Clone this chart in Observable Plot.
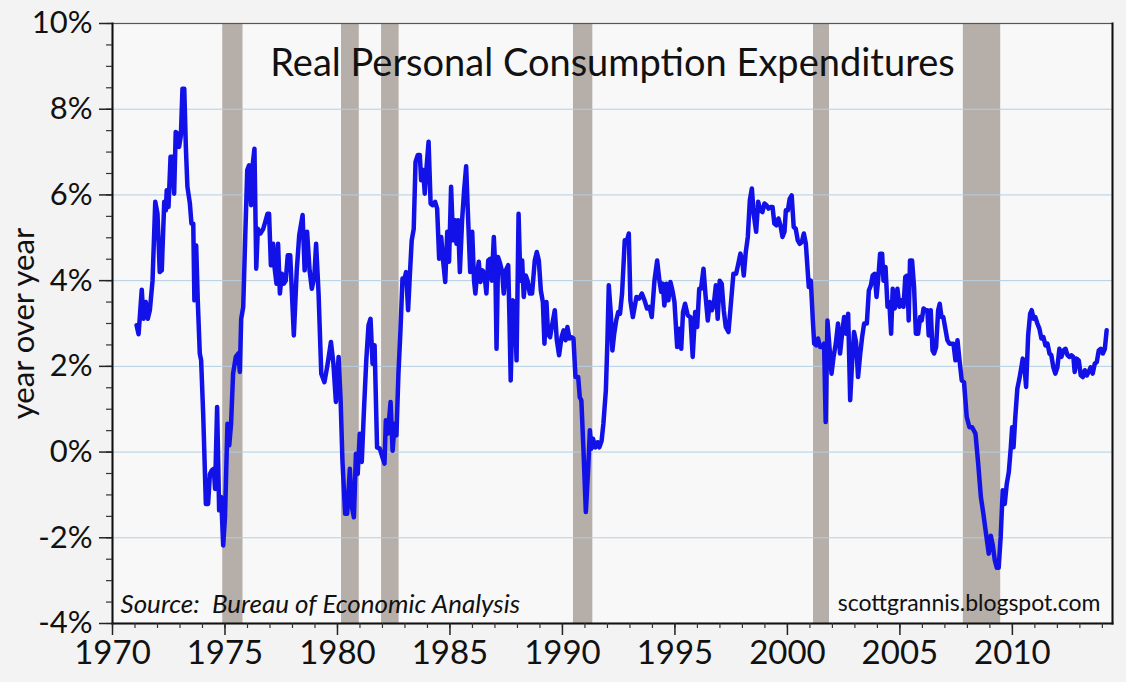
<!DOCTYPE html>
<html>
<head>
<meta charset="utf-8">
<script src="https://cdn.jsdelivr.net/npm/d3@7"></script>
<script src="https://cdn.jsdelivr.net/npm/@observablehq/plot@0.6"></script>
<style>
  html, body { margin: 0; padding: 0; background: #f3f3f3; }
  #chart svg { display: block; }
</style>
</head>
<body>
<div id="chart"></div>
<script>
const title = "Real Personal Consumption Expenditures";
const yLabel = "year over year";
const sourceNote = "Source:  Bureau of Economic Analysis";
const credit = "scottgrannis.blogspot.com";

// decimal year of each observation
const years = [
  1971.07,1971.16,1971.30,1971.38,1971.48,1971.57,1971.66,1971.78,1971.90,1972.00,
  1972.10,1972.19,1972.30,1972.37,1972.41,1972.49,1972.58,1972.67,1972.74,1972.81,
  1972.90,1972.96,1973.04,1973.11,1973.19,1973.26,1973.33,1973.44,1973.51,1973.59,
  1973.64,1973.72,1973.79,1973.88,1973.94,1974.03,1974.15,1974.25,1974.33,1974.41,
  1974.50,1974.56,1974.65,1974.74,1974.83,1974.92,1975.00,1975.11,1975.19,1975.27,
  1975.36,1975.48,1975.59,1975.66,1975.72,1975.81,1975.90,1975.99,1976.07,1976.16,
  1976.22,1976.31,1976.39,1976.46,1976.58,1976.70,1976.79,1976.89,1976.96,1977.04,
  1977.14,1977.21,1977.29,1977.36,1977.44,1977.53,1977.61,1977.70,1977.79,1977.90,
  1978.06,1978.19,1978.30,1978.45,1978.54,1978.65,1978.76,1978.86,1978.97,1979.05,
  1979.16,1979.28,1979.42,1979.54,1979.71,1979.82,1979.93,1980.05,1980.14,1980.22,
  1980.34,1980.43,1980.55,1980.64,1980.73,1980.82,1980.90,1980.99,1981.08,1981.17,
  1981.28,1981.38,1981.47,1981.56,1981.65,1981.76,1981.88,1982.00,1982.09,1982.15,
  1982.24,1982.36,1982.45,1982.54,1982.62,1982.71,1982.80,1982.89,1982.98,1983.05,
  1983.14,1983.22,1983.30,1983.39,1983.47,1983.57,1983.66,1983.72,1983.81,1983.88,
  1983.96,1984.05,1984.14,1984.22,1984.34,1984.43,1984.52,1984.61,1984.70,1984.79,
  1984.88,1984.96,1985.05,1985.14,1985.23,1985.29,1985.36,1985.44,1985.54,1985.63,
  1985.72,1985.81,1985.90,1985.99,1986.07,1986.13,1986.21,1986.28,1986.36,1986.45,
  1986.53,1986.62,1986.70,1986.79,1986.86,1986.95,1987.02,1987.07,1987.14,1987.23,
  1987.32,1987.39,1987.48,1987.59,1987.64,1987.70,1987.79,1987.88,1987.96,1988.05,
  1988.13,1988.21,1988.28,1988.37,1988.45,1988.55,1988.65,1988.77,1988.86,1988.95,
  1989.04,1989.13,1989.20,1989.29,1989.36,1989.45,1989.54,1989.66,1989.75,1989.85,
  1989.96,1990.05,1990.14,1990.22,1990.31,1990.40,1990.49,1990.58,1990.70,1990.77,
  1990.84,1990.93,1991.04,1991.14,1991.22,1991.29,1991.36,1991.47,1991.56,1991.64,
  1991.74,1991.82,1991.93,1992.00,1992.06,1992.15,1992.22,1992.30,1992.39,1992.48,
  1992.56,1992.65,1992.77,1992.87,1992.95,1993.02,1993.13,1993.29,1993.41,1993.53,
  1993.65,1993.76,1993.87,1993.97,1994.09,1994.21,1994.31,1994.39,1994.46,1994.53,
  1994.62,1994.71,1994.80,1994.89,1994.98,1995.10,1995.19,1995.28,1995.36,1995.45,
  1995.57,1995.69,1995.79,1995.90,1995.99,1996.08,1996.16,1996.27,1996.36,1996.46,
  1996.55,1996.64,1996.73,1996.82,1996.90,1996.99,1997.08,1997.17,1997.26,1997.38,
  1997.50,1997.60,1997.72,1997.82,1997.91,1998.00,1998.06,1998.15,1998.24,1998.33,
  1998.42,1998.50,1998.61,1998.70,1998.80,1998.89,1998.98,1999.07,1999.16,1999.25,
  1999.34,1999.42,1999.51,1999.60,1999.69,1999.78,1999.87,1999.93,2000.02,2000.10,
  2000.19,2000.28,2000.37,2000.46,2000.55,2000.64,2000.73,2000.82,2000.95,2001.04,
  2001.13,2001.19,2001.28,2001.36,2001.45,2001.54,2001.63,2001.70,2001.78,2001.87,
  2001.96,2002.05,2002.15,2002.25,2002.34,2002.43,2002.52,2002.61,2002.70,2002.79,
  2002.88,2002.96,2003.05,2003.14,2003.23,2003.32,2003.41,2003.53,2003.62,2003.71,
  2003.79,2003.88,2003.96,2004.03,2004.12,2004.21,2004.27,2004.36,2004.45,2004.53,
  2004.61,2004.68,2004.77,2004.89,2004.98,2005.07,2005.16,2005.24,2005.33,2005.39,
  2005.45,2005.54,2005.63,2005.71,2005.81,2005.90,2005.97,2006.05,2006.13,2006.22,
  2006.28,2006.37,2006.45,2006.52,2006.61,2006.70,2006.77,2006.85,2006.93,2007.02,
  2007.11,2007.20,2007.29,2007.38,2007.47,2007.56,2007.65,2007.75,2007.85,2007.97,
  2008.09,2008.21,2008.36,2008.48,2008.60,2008.71,2008.83,2008.95,2009.04,2009.13,
  2009.22,2009.31,2009.39,2009.48,2009.57,2009.66,2009.75,2009.84,2009.93,2009.99,
  2010.05,2010.13,2010.22,2010.31,2010.40,2010.46,2010.55,2010.61,2010.70,2010.79,
  2010.86,2010.94,2011.02,2011.11,2011.20,2011.29,2011.38,2011.47,2011.56,2011.65,
  2011.73,2011.82,2011.91,2012.00,2012.09,2012.18,2012.27,2012.36,2012.45,2012.53,
  2012.62,2012.71,2012.77,2012.86,2012.95,2013.04,2013.13,2013.22,2013.31,2013.39,
  2013.48,2013.57,2013.66,2013.75,2013.84,2013.93,2014.02,2014.11,2014.19
];

// real PCE, % change year over year
const pceYoY = [
  2.96,2.75,3.79,3.11,3.50,3.11,3.31,4.00,5.84,5.56,
  4.20,4.24,5.84,5.64,6.11,5.72,6.89,6.89,6.03,7.47,
  7.43,7.12,7.39,8.48,8.48,7.12,6.19,5.80,5.33,5.33,
  3.54,4.82,3.54,2.30,2.14,0.90,-1.21,-1.21,-0.51,-0.43,
  -0.39,-0.86,1.05,-1.36,-1.05,-2.18,-1.52,0.66,0.16,0.66,
  1.83,2.22,2.30,1.87,3.11,3.38,5.02,6.58,6.69,5.76,
  6.65,7.08,4.28,5.21,5.10,5.21,5.37,5.56,5.56,4.36,
  4.86,4.28,3.93,4.86,3.70,4.16,3.93,4.00,4.59,4.59,
  2.72,4.24,5.06,5.53,4.24,5.14,4.24,3.81,4.09,4.86,
  3.70,1.83,1.63,1.98,2.57,2.06,1.17,2.22,1.21,-0.19,
  -1.44,-1.44,-0.39,-1.28,-1.52,-0.04,-0.51,0.43,-0.23,0.89,
  2.14,2.96,3.11,2.06,2.49,0.11,0.08,-0.12,-0.27,0.74,
  0.43,1.17,0.03,0.66,0.39,1.83,2.84,4.05,4.05,4.20,
  3.31,4.16,4.94,5.21,6.77,6.93,6.93,6.34,6.58,6.03,
  6.65,7.24,5.80,5.76,5.84,5.68,4.51,5.02,4.44,3.97,
  5.14,4.44,6.19,4.94,5.41,4.86,5.41,4.20,5.41,6.11,
  6.67,5.41,4.20,5.14,4.00,3.70,4.16,4.44,3.97,4.24,
  4.16,3.70,4.47,4.51,4.00,5.02,4.24,2.41,4.55,4.40,
  4.20,3.70,4.24,4.36,3.23,1.67,3.54,3.50,2.14,5.56,
  4.00,4.47,3.62,4.12,4.00,3.70,3.70,4.47,4.67,4.47,
  3.77,3.50,2.53,3.50,2.76,2.68,2.96,3.31,2.61,2.26,
  2.68,2.84,2.61,2.92,2.65,2.68,2.65,1.75,1.75,1.28,
  1.21,0.11,-1.40,-0.43,0.51,0.08,0.31,0.11,0.23,0.11,
  0.26,0.66,1.44,2.61,3.89,3.23,2.37,2.76,3.07,3.27,
  3.23,3.70,4.94,4.94,5.10,3.54,3.15,3.62,3.58,3.70,
  3.54,3.35,3.39,3.15,4.00,4.47,4.00,3.74,3.93,3.42,
  3.93,3.54,3.97,3.77,3.50,2.45,2.88,2.41,3.27,3.46,
  3.19,3.15,2.22,3.27,2.92,3.81,3.81,4.28,3.66,3.07,
  3.50,3.31,3.46,3.89,3.11,4.00,3.93,3.31,2.92,2.80,
  3.54,4.16,4.16,4.40,4.63,4.44,4.12,4.67,5.02,5.88,
  6.15,5.56,5.14,5.84,5.64,5.60,5.80,5.76,5.68,5.72,
  5.72,5.33,5.29,5.45,5.29,5.02,5.14,5.64,5.64,5.91,
  5.99,5.25,5.21,4.94,4.86,4.90,5.10,4.86,3.85,4.00,
  3.07,2.53,2.49,2.65,2.45,2.45,2.53,0.70,3.07,2.45,
  1.83,2.22,2.53,3.00,2.30,2.76,3.15,2.76,3.23,1.21,
  2.14,2.80,2.57,1.75,2.26,2.68,3.00,3.00,3.77,3.89,
  4.12,4.16,3.62,4.00,4.63,4.63,4.00,4.32,3.39,3.50,
  2.76,3.81,3.35,3.81,3.39,3.54,3.39,4.09,4.12,3.07,
  4.47,4.47,3.85,2.76,2.76,3.15,3.07,3.35,3.31,3.31,
  2.72,3.31,2.37,2.30,2.45,3.31,3.46,3.15,3.15,2.88,
  2.61,2.53,2.53,2.53,2.14,2.61,2.14,1.67,1.63,0.82,
  0.58,0.58,0.43,-0.27,-1.05,-1.44,-1.91,-2.37,-1.95,-2.18,
  -2.53,-2.70,-2.70,-1.98,-0.89,-1.21,-0.74,-0.47,0.11,0.58,
  0.11,0.82,1.48,1.71,1.98,2.18,1.91,1.52,2.72,3.23,
  3.31,3.11,3.15,3.00,2.88,2.65,2.68,2.49,2.53,2.30,
  2.26,1.98,1.83,1.98,2.41,2.22,2.37,2.41,2.26,2.22,
  2.26,2.22,1.87,2.18,2.14,1.79,1.75,1.91,1.79,1.87,
  1.98,1.83,2.06,2.10,2.37,2.41,2.30,2.41,2.84
];

// recession shading (decimal years, as drawn)
const recessionStart = [1974.90, 1980.18, 1981.96, 1990.49, 2001.16, 2007.82];
const recessionEnd   = [1975.80, 1980.97, 1982.74, 1991.35, 2001.87, 2009.48];

const xDomain = [1970, 2014.45];
const yDomain = [-4, 10];
const xMajorTicks = [1970, 1975, 1980, 1985, 1990, 1995, 2000, 2005, 2010];
const xMinorTicks = d3.range(1970, 2015, 1);
const yMajorTicks = [-4, -2, 0, 2, 4, 6, 8, 10];
const yMinorTicks = d3.range(-4, 10.01, 0.5);
const gridValues = [-2, 0, 2, 4, 6, 8];

const series = years.map((yr, i) => ({year: yr, value: pceYoY[i]}));
const recessions = recessionStart.map((s, i) => ({start: s, end: recessionEnd[i]}));

const font = "Lato, 'DejaVu Sans', sans-serif";

const chart = Plot.plot({
  width: 1126,
  height: 682,
  marginLeft: 112,
  marginRight: 14,
  marginTop: 23,
  marginBottom: 59,
  style: {background: "#f3f3f3", fontFamily: font, color: "#111", overflow: "visible"},
  x: {domain: xDomain},
  y: {domain: yDomain},
  marks: [
    Plot.frame({fill: "#f8f8f8", stroke: null}),
    Plot.rect(recessions, {x1: "start", x2: "end", fill: "#b6aea9"}),
    Plot.ruleY(gridValues, {stroke: "#b4cfe2", strokeWidth: 1}),
    Plot.line(series, {x: "year", y: "value", stroke: "#1212e8", strokeWidth: 4.5, strokeLinejoin: "round", curve: "linear"}),
    Plot.frame({stroke: "#555", strokeWidth: 1.2}),
    Plot.frame({anchor: "right", stroke: "#111", strokeWidth: 2}),
    Plot.frame({anchor: "left", stroke: "#111", strokeWidth: 2}),
    Plot.frame({anchor: "bottom", stroke: "#111", strokeWidth: 2}),
    Plot.axisY({ticks: yMinorTicks, tickSize: 6, tickFormat: () => "", label: null, stroke: "#333", strokeWidth: 1.2}),
    Plot.axisY({ticks: yMajorTicks, tickSize: 13, tickPadding: 7, tickFormat: d => d + "%", label: null,
                fontSize: 31, fontFamily: font, stroke: "#222", strokeWidth: 1.5, fill: "#111"}),
    Plot.axisX({ticks: xMinorTicks, tickSize: 5, tickFormat: () => "", label: null, stroke: "#333", strokeWidth: 1.2}),
    Plot.axisX({ticks: xMajorTicks, tickSize: 12, tickPadding: 5, tickFormat: d => String(d), label: null,
                fontSize: 33, fontFamily: font, stroke: "#222", strokeWidth: 1.5, fill: "#111"}),
    Plot.text([yLabel], {frameAnchor: "left", textAnchor: "middle", lineAnchor: "middle", dx: -88, rotate: -90,
                         fontSize: 31, fontFamily: font, fill: "#111"}),
    Plot.text([title], {frameAnchor: "top", dy: 26, fontSize: 38, fontFamily: font, fill: "#111"}),
    Plot.text([sourceNote], {frameAnchor: "bottom-left", textAnchor: "start", lineAnchor: "middle", dx: 8, dy: -19,
                             fontSize: 26, fontStyle: "italic", fontFamily: font, fill: "#111"}),
    Plot.text([credit], {frameAnchor: "bottom-right", textAnchor: "end", lineAnchor: "middle", dx: -12, dy: -20,
                         fontSize: 23, fontFamily: font, fill: "#111"})
  ]
});

document.getElementById("chart").appendChild(chart);
</script>
</body>
</html>
